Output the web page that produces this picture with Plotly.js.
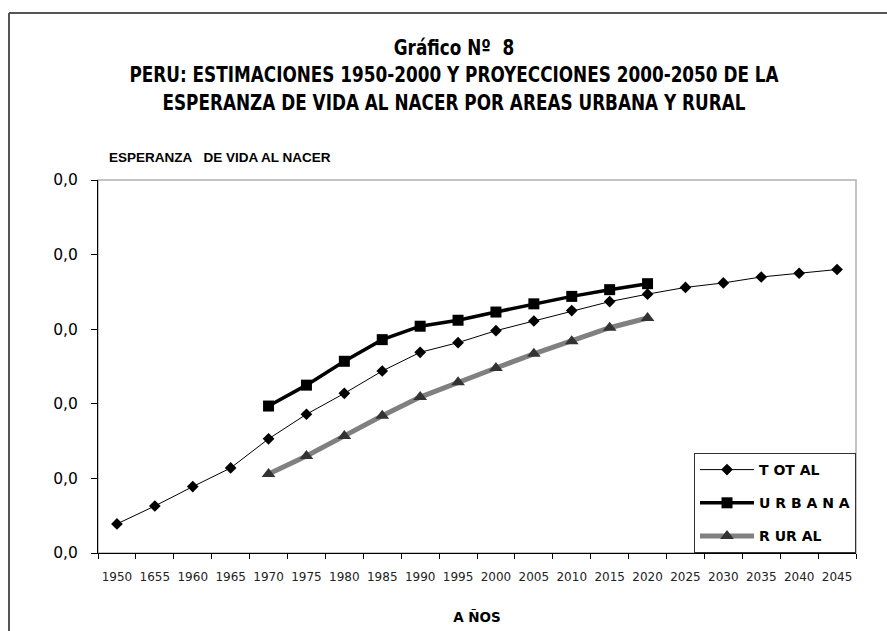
<!DOCTYPE html>
<html>
<head>
<meta charset="utf-8">
<script src="https://cdn.plot.ly/plotly-3.0.1.min.js"></script>
<style>
html,body{margin:0;padding:0;background:#fff;}
#chart{width:887px;height:631px;}
#chart .gtitle{font-stretch:condensed;}
</style>
</head>
<body>
<div id="chart"></div>
<script>
// Category labels (as printed on the chart, including the "1655" label)
var years = ['1950','1655','1960','1965','1970','1975','1980','1985','1990','1995','2000','2005','2010','2015','2020','2025','2030','2035','2040','2045'];
var yearsSub = ['1970','1975','1980','1985','1990','1995','2000','2005','2010','2015','2020'];

// Series values (life expectancy at birth, years)
var total  = [43.9,46.3,48.9,51.4,55.3,58.6,61.4,64.4,66.9,68.2,69.8,71.1,72.5,73.7,74.7,75.6,76.2,77.0,77.5,78.0];
var urbana = [59.7,62.5,65.7,68.6,70.4,71.2,72.3,73.4,74.4,75.3,76.1];
var rural  = [50.6,53.0,55.7,58.4,60.9,62.9,64.8,66.7,68.4,70.2,71.5];

// Y tick values and printed tick labels
var yTickVals = [40,50,60,70,80,90];
var yTickText = ['0,0','0,0','0,0','0,0','0,0','0,0'];

var legendNames = ['T OT AL','U R B A N A','R UR AL'];

var traces = [
  {x: years, y: total, name: legendNames[0], legendgroup:'a', type:'scatter', mode:'lines+markers',
   line:{color:'#000', width:1}, marker:{symbol:'diamond', size:9, color:'#000'}},
  {x: yearsSub, y: urbana, name: legendNames[1], legendgroup:'b', type:'scatter', mode:'lines+markers',
   line:{color:'#000', width:3.5}, marker:{symbol:'square', size:11, color:'#000'}},
  {x: yearsSub, y: rural, name: legendNames[2], legendgroup:'c', type:'scatter', mode:'lines+markers',
   line:{color:'#808080', width:5}, marker:{symbol:'triangle-up', size:12, color:'#333333'}}
];

var titleFont = "'Liberation Sans Narrow','Arial Narrow','DejaVu Sans Condensed','DejaVu Sans',sans-serif";

var layout = {
  width: 887, height: 631,
  margin: {l: 98, r: 31, t: 180, b: 78},
  paper_bgcolor: '#fff', plot_bgcolor: '#fff',
  showlegend: true,
  title: {
    text: 'Gráfico Nº\u00a0 8<br>PERU: ESTIMACIONES 1950-2000 Y PROYECCIONES 2000-2050 DE LA<br>ESPERANZA DE VIDA AL NACER POR AREAS URBANA Y RURAL',
    font: {family: titleFont, size: 21, color: '#000', weight: 'bold'},
    x: 454/887, xref: 'container', xanchor: 'center',
    y: 1 - 55/631, yref: 'container', yanchor: 'top'
  },
  xaxis: {
    type: 'category', categoryorder: 'array', categoryarray: years,
    range: [-0.5, 19.5],
    showline: true, linecolor: '#000', linewidth: 1,
    showgrid: false, zeroline: false,
    ticks: 'outside', ticklen: 5, tickcolor: '#000', tickson: 'boundaries',
    tickangle: 0,
    tickfont: {family: 'DejaVu Sans, Verdana, sans-serif', size: 12, color: '#222'},
    ticklabelstandoff: 13,
    title: {text: 'A ÑOS', font: {family: 'DejaVu Sans, sans-serif', size: 13.5, color: '#000', weight: 'bold'}, standoff: 29}
  },
  yaxis: {
    range: [40, 90],
    tickvals: yTickVals, ticktext: yTickText,
    showline: true, linecolor: '#000', linewidth: 1,
    showgrid: false, zeroline: false,
    ticks: 'outside', ticklen: 6, tickcolor: '#000',
    tickfont: {family: 'DejaVu Sans, Verdana, sans-serif', size: 15.5, color: '#000'},
    ticklabelstandoff: 10
  },
  legend: {
    x: 1, xanchor: 'right', y: 0, yanchor: 'bottom',
    bgcolor: '#fff', bordercolor: '#333', borderwidth: 1,
    font: {family: 'DejaVu Sans, Verdana, sans-serif', size: 14, color: '#000', weight: 'bold'},
    itemwidth: 54, tracegroupgap: 12, traceorder: 'grouped'
  },
  shapes: [
    {type: 'rect', xref: 'x domain', yref: 'y domain', x0: 0, x1: 1, y0: 0, y1: 1,
     line: {color: '#b0b0b0', width: 1.5}, layer: 'below'},
    {type: 'line', xref: 'paper', yref: 'paper',
     x0: (9-98)/758, x1: (9-98)/758, y0: (553-13)/373, y1: -0.3,
     line: {color: '#555', width: 2}},
    {type: 'line', xref: 'paper', yref: 'paper',
     x0: (9-98)/758, x1: 1.2, y0: (553-13)/373, y1: (553-13)/373,
     line: {color: '#555', width: 2}}
  ],
  annotations: [
    {text: 'ESPERANZA\u00a0\u00a0 DE VIDA AL NACER', xref: 'paper', yref: 'paper',
     x: (107-98)/758, xanchor: 'left', y: (553-157)/373, yanchor: 'middle', showarrow: false,
     font: {family: 'Liberation Sans, Arial, sans-serif', size: 13.5, color: '#000', weight: 'bold'}}
  ]
};

Plotly.newPlot('chart', traces, layout, {staticPlot: true, displayModeBar: false}).then(function(gd){
  // Condense the title horizontally if no narrow face was found (target width of longest line ~650px)
  var t = gd.querySelector('.gtitle');
  if (t) {
    var w = t.getBBox().width;
    var target = 650;
    if (w > target + 5) {
      var k = target / w;
      var cx = parseFloat(t.getAttribute('x'));
      t.setAttribute('transform', 'translate(' + cx + ',0) scale(' + k + ',1) translate(' + (-cx) + ',0)');
    }
  }
});
</script>
</body>
</html>
